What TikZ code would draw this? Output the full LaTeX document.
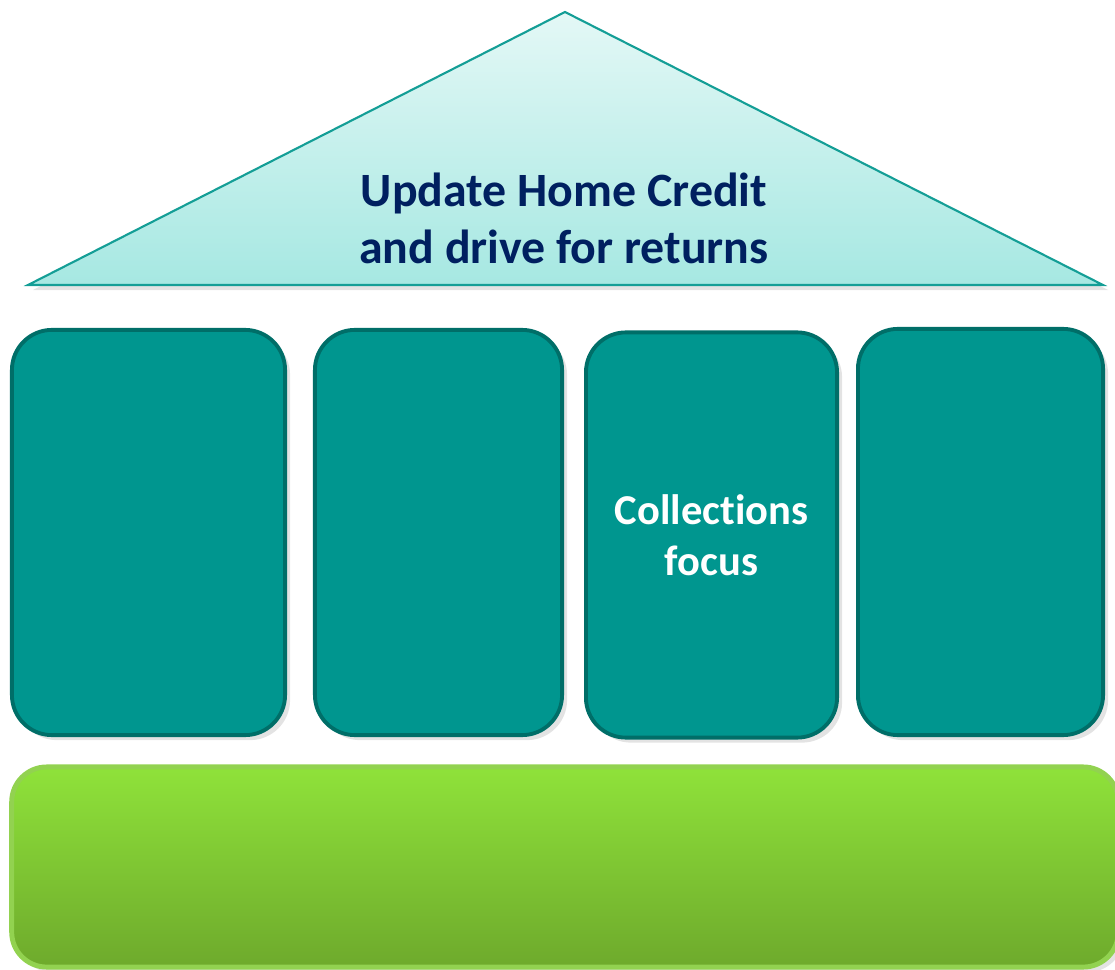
\documentclass[tikz,border=0pt]{standalone}
\usepackage{fontspec}
\setmainfont[Ligatures=NoCommon]{Carlito}
\usepackage{tikz}
\usetikzlibrary{positioning,shadows}
\definecolor{roofline}{RGB}{20,158,150}
\definecolor{rooftop}{RGB}{228,248,246}
\definecolor{roofbottom}{RGB}{166,232,226}
\definecolor{titlenavy}{RGB}{0,32,96}
\definecolor{pillarfill}{RGB}{0,150,143}
\definecolor{pillarline}{RGB}{0,110,104}
\definecolor{basetop}{RGB}{143,226,58}
\definecolor{basebottom}{RGB}{110,170,44}
\definecolor{baseline}{RGB}{146,210,80}

\tikzset{
  softshadow/.style={drop shadow={opacity=0.22, shadow xshift=0.05cm, shadow yshift=-0.05cm}},
  pillar/.style={draw=pillarline, fill=pillarfill, line width=1.1pt, rounded corners=0.4cm, softshadow, inner sep=0pt},
}

\begin{document}
\begin{tikzpicture}[x=0.01cm, y=-0.01cm]
\useasboundingbox (0,0) rectangle (1115,970);
% roof
\draw[draw=roofline, line width=0.6pt, top color=rooftop, bottom color=roofbottom, softshadow] (565,12) -- (1103,285) -- (28,285) -- cycle;
\node[font=\fontsize{13.6}{16.2}\selectfont\bfseries, color=titlenavy, align=center] (roof) at (564,218) {Update Home Credit\\and drive for returns};
% pillars
\node[pillar, minimum width=2.73cm, minimum height=4.05cm] (pillarA) at (148.5,532.5) {};
\node[pillar, minimum width=2.47cm, minimum height=4.05cm] (pillarB) at (438.5,532.5) {};
\node[pillar, minimum width=2.51cm, minimum height=4.05cm, font=\fontsize{12.1}{14.6}\selectfont\bfseries, text=white, align=center] (pillarC) at (711.5,535) {Collections\\focus};
\node[pillar, minimum width=2.45cm, minimum height=4.06cm] (pillarD) at (980.5,532) {};
% base
\node[draw=baseline, line width=1.4pt, top color=basetop, bottom color=basebottom, rounded corners=0.35cm, softshadow, minimum width=11.06cm, minimum height=2.0cm, inner sep=0pt] (base) at (565,867) {};
\end{tikzpicture}
\end{document}
